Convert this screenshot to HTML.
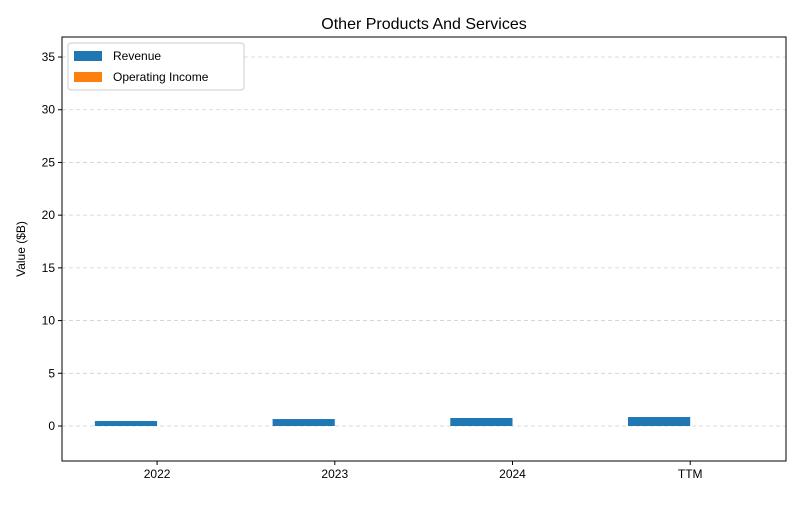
<!DOCTYPE html>
<html><head><meta charset="utf-8"><style>
body{margin:0;background:#fff;font-family:"Liberation Sans",sans-serif;}
</style></head><body>
<svg id="chart" width="800" height="500" xmlns="http://www.w3.org/2000/svg"></svg>
<script>
const categories = ["2022","2023","2024","TTM"];
const revenue = [0.47, 0.66, 0.76, 0.85];
const operatingIncome = [0, 0, 0, 0];
const yTicks = [0,5,10,15,20,25,30,35];

const svg = document.getElementById('chart');
const NS = "http://www.w3.org/2000/svg";
const L=62,R=786,T=37,B=461, yMin=-3.32, yMax=36.9;
const xMin=-0.535, xMax=3.539;
function X(v){return L+(v-xMin)/(xMax-xMin)*(R-L);}
function Y(v){return B-(v-yMin)/(yMax-yMin)*(B-T);}
function mk(tag,attrs,name,text){const e=document.createElementNS(NS,tag);for(const k in attrs)e.setAttribute(k,attrs[k]);


if(text!==undefined)e.textContent=text;svg.appendChild(e);return e;}
mk('text',{x:424,y:29,'font-size':16,'text-anchor':'middle',fill:'#000'},'chart-title','Other Products And Services');
yTicks.forEach(t=>{const y=Y(t);
mk('line',{x1:L,x2:R,y1:y,y2:y,stroke:'#d0d0d0','stroke-dasharray':'4,3','stroke-width':0.8},'grid-line');
mk('line',{x1:L-4,x2:L,y1:y,y2:y,stroke:'#000'},'y-tick');
mk('text',{x:L-7,y:y+4,'font-size':12,'text-anchor':'end'},'y-tick-label',String(t));});
const bw=0.35;
categories.forEach((c,i)=>{
 const r=revenue[i], o=operatingIncome[i];
 mk('rect',{x:X(i-bw),y:Y(Math.max(r,0)),width:X(bw)-X(0),height:Math.abs(Y(r)-Y(0)),fill:'#1f77b4'},'revenue-bar-'+c.toLowerCase());
 mk('rect',{x:X(i),y:Y(Math.max(o,0)),width:X(bw)-X(0),height:Math.abs(Y(o)-Y(0)),fill:'#ff7f0e'},'operating-income-bar-'+c.toLowerCase());
 mk('line',{x1:X(i),x2:X(i),y1:B,y2:B+4,stroke:'#000'},'x-tick');
 mk('text',{x:X(i),y:B+17,'font-size':12,'text-anchor':'middle'},'x-tick-label',c);
});
mk('rect',{x:L,y:T,width:R-L,height:B-T,fill:'none',stroke:'#000','stroke-width':1},'plot-frame');
mk('text',{x:25,y:249,'font-size':12,'text-anchor':'middle',transform:'rotate(-90 25 249)'},'y-axis-title','Value ($B)');
mk('rect',{x:68,y:43,width:176,height:47,fill:'#fff',stroke:'#ccc',rx:3},'legend');
mk('rect',{x:74,y:51,width:28,height:10,fill:'#1f77b4'},'legend-swatch-revenue');
mk('text',{x:113,y:60,'font-size':12},'legend-label-revenue','Revenue');
mk('rect',{x:74,y:72,width:28,height:10,fill:'#ff7f0e'},'legend-swatch-operating-income');
mk('text',{x:113,y:81,'font-size':12},'legend-label-operating-income','Operating Income');
</script>
</body></html>
